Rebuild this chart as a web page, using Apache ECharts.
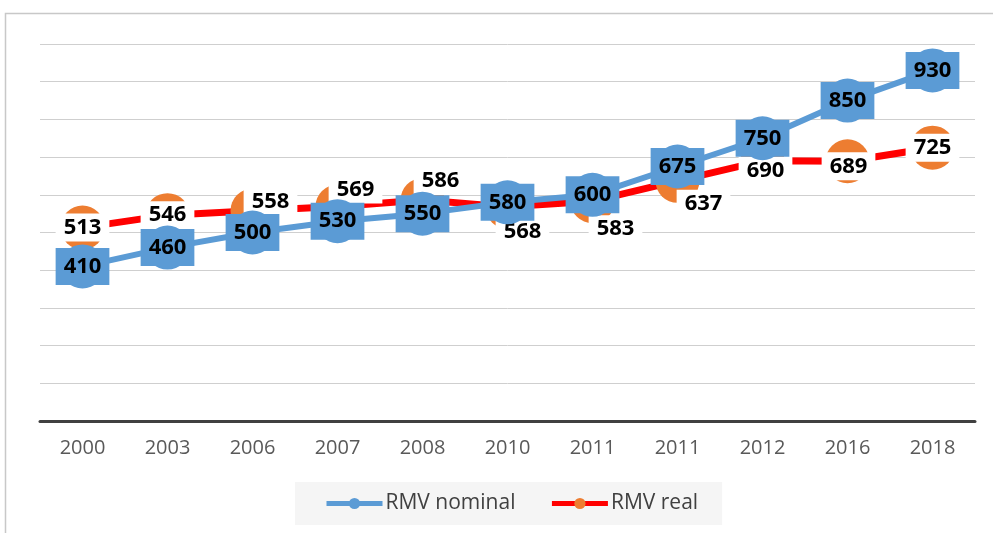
<!DOCTYPE html>
<html>
<head>
<meta charset="utf-8">
<style>html,body{margin:0;padding:0;background:#fff}#c{width:993px;height:533px}</style>
<script src="https://cdn.jsdelivr.net/npm/echarts@6/dist/echarts.min.js"></script>
</head>
<body>
<div id="c"></div>
<script>
const categories = ['2000','2003','2006','2007','2008','2010','2011','2011','2012','2016','2018'];
const nominal = [410,460,500,530,550,580,600,675,750,850,930];
const real = [513,546,558,569,586,568,583,637,690,689,725];
const realLabelOffsets = [[0,0],[0,0],[18,-9],[18,-17],[18,-19],[15,25],[23,28],[26,23],[3,10],[1,5],[0,0]];

const chart = echarts.init(document.getElementById('c'));
const font = "'Open Sans', 'Noto Sans', sans-serif";
chart.setOption({
  animation: false,
  backgroundColor: '#fff',
  graphic: [{
    type: 'rect', z: -10,
    shape: {x: 5.5, y: 13.5, width: 1100, height: 600},
    style: {fill: 'none', stroke: '#c8c8c8', lineWidth: 1.5}
  }],
  grid: {left: 40, right: 18, top: 44, bottom: 112},
  xAxis: {
    type: 'category', data: categories,
    axisLine: {lineStyle: {color: '#404040', width: 3}},
    axisTick: {show: false},
    axisLabel: {color: '#595959', fontSize: 20, fontFamily: font, margin: 17, interval: 0}
  },
  yAxis: {
    type: 'value', min: 0, max: 1000, interval: 100,
    axisLabel: {show: false}, axisLine: {show: false}, axisTick: {show: false},
    splitLine: {lineStyle: {color: '#cfcfcf', width: 1}}
  },
  legend: {
    left: 295, top: 482,
    backgroundColor: '#f5f5f5',
    padding: [11, 24, 11, 29],
    itemWidth: 56, itemHeight: 14, itemGap: 34,
    lineStyle: {width: 5},
    textStyle: {color: '#404040', fontSize: 21, fontFamily: font, padding: [0,0,0,-2]},
    data: ['RMV nominal', 'RMV real']
  },
  series: [
    {
      name: 'RMV real', type: 'line', z: 2,
      data: real.map((v, i) => ({value: v, label: {offset: realLabelOffsets[i]}})),
      symbol: 'circle', symbolSize: 44,
      itemStyle: {color: '#ed7d31'},
      lineStyle: {color: '#ff0000', width: 7},
      label: {
        show: true, position: 'inside', color: '#000', fontWeight: 'bold',
        fontSize: 22, fontFamily: font, backgroundColor: '#fff',
        padding: [2, 8], lineHeight: 24
      }
    },
    {
      name: 'RMV nominal', type: 'line', z: 3,
      data: nominal,
      symbol: 'circle', symbolSize: 44,
      itemStyle: {color: '#5b9bd5'},
      lineStyle: {color: '#5b9bd5', width: 6},
      label: {
        show: true, position: 'inside', color: '#000', fontWeight: 'bold',
        fontSize: 22, fontFamily: font, backgroundColor: '#5b9bd5',
        padding: [6, 8], lineHeight: 25
      }
    }
  ]
});
</script>
</body>
</html>
